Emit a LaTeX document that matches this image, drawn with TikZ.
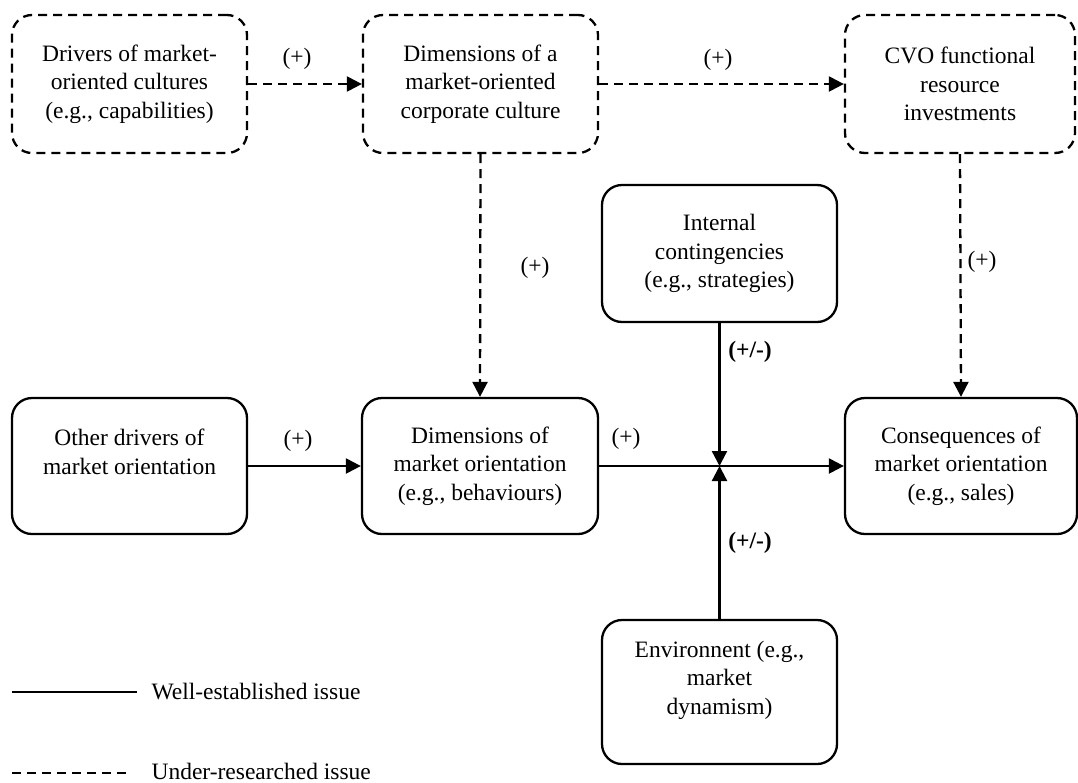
\documentclass[tikz,border=0pt]{standalone}
\usepackage{fontspec}
\setmainfont{Liberation Serif}
\usetikzlibrary{arrows.meta}
\begin{document}
\begin{tikzpicture}[x=1pt,y=-1pt,
  box/.style={draw, line width=2.3pt, rounded corners=20pt, align=center,
    inner sep=0pt, font=\fontsize{23.5}{28.5}\selectfont},
  dbox/.style={box, dash pattern=on 9pt off 6pt},
  arr/.style={line width=2.3pt, -{Triangle[length=15pt,width=15pt]}},
  darr/.style={arr, dash pattern=on 9pt off 6pt},
  lbl/.style={font=\fontsize{23.5}{26}\selectfont},
  blbl/.style={font=\fontsize{23.5}{26}\selectfont\bfseries}]
\useasboundingbox (0,0) rectangle (1078,782);
% nodes
\node[dbox, minimum width=235pt, minimum height=138pt] (drv) at (129.5,84) {Drivers of market-\\oriented cultures\\(e.g., capabilities)};
\node[dbox, minimum width=235pt, minimum height=138pt] (dcc) at (480.5,84) {Dimensions of a\\market-oriented\\corporate culture};
\node[dbox, minimum width=230pt, minimum height=138pt] (cvo) at (960,84) {CVO functional\\resource\\investments};
\node[box, minimum width=235pt, minimum height=137pt] (ic) at (719.5,253.5) {Internal\\contingencies\\(e.g., strategies)};
\node[box, minimum width=235pt, minimum height=136pt] (od) at (129.5,466) {Other drivers of\\market orientation\\\mbox{}};
\node[box, minimum width=236pt, minimum height=136pt] (dmo) at (480,466) {Dimensions of\\market orientation\\(e.g., behaviours)};
\node[box, minimum width=232pt, minimum height=136pt] (con) at (961,466) {Consequences of\\market orientation\\(e.g., sales)};
\node[box, minimum width=235pt, minimum height=144pt] (env) at (719.5,692) {Environnent (e.g.,\\market\\dynamism)\\\mbox{}};
\coordinate (j) at (719.5,466);
% connectors
\draw[darr] (drv.east) -- (dcc.west);
\draw[darr] (dcc.east) -- (cvo.west);
\draw[darr] (dcc.south) -- (dmo.north);
\draw[darr] (cvo.south) -- (con.north);
\draw[arr] (od.east) -- (dmo.west);
\draw[arr] (dmo.east) -- (con.west);
\draw[arr] (ic.south) -- (j);
\draw[arr] (env.north) -- (j);
% labels
\node[lbl] (l1) at (297,59) {(+)};
\node[lbl] (l2) at (718,60) {(+)};
\node[lbl] (l3) at (535,268) {(+)};
\node[lbl] (l4) at (982,262) {(+)};
\node[lbl] (l5) at (298,441) {(+)};
\node[lbl] (l6) at (626,439) {(+)};
\node[blbl] (l7) at (750,352) {(+/-)};
\node[blbl] (l8) at (750,543) {(+/-)};
% legend
\coordinate (s1) at (12,692);
\coordinate (s2) at (137,692);
\draw[line width=2.3pt] (s1) -- (s2);
\node[lbl, anchor=west] (t1) at (148,692) {Well-established issue};
\coordinate (d1) at (12,773);
\coordinate (d2) at (128,773);
\draw[line width=2.3pt, dash pattern=on 9pt off 6pt] (d1) -- (d2);
\node[lbl, anchor=west] (t2) at (148,771) {Under-researched issue};
\end{tikzpicture}
\end{document}
